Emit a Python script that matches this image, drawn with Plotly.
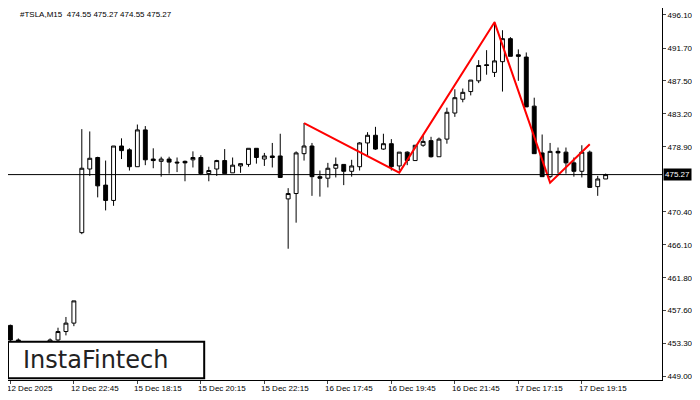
import plotly.graph_objects as go

# M15 candles
opens = [455.6, 453.7, 452.5, 451.8, 452.6, 453.0, 453.7, 454.8, 455.9,
         467.7, 476.0, 477.5, 473.9, 471.9, 479.0, 478.5, 476.3, 481.1, 477.3,
         477.0, 477.3, 476.9, 477.0, 477.2, 477.5, 475.4, 476.0, 477.1, 475.5,
         476.4, 476.6, 478.7, 477.3, 477.7, 477.7, 472.1, 472.8, 478.0, 479.0,
         475.0, 474.8, 476.1, 476.6, 475.7, 476.3, 479.4, 480.4, 478.6, 479.3,
         476.4, 478.2, 477.1, 479.1, 479.7, 477.6, 479.9, 483.3, 485.1, 486.1,
         487.5, 489.6, 488.6, 490.0, 493.0, 490.9, 490.6, 484.2, 478.1, 475.0,
         478.3, 478.2, 476.8, 475.7, 478.2, 473.7, 474.7]
highs = [455.7, 453.9, 452.8, 452.8, 453.2, 453.9, 455.3, 456.7, 458.8,
         481.2, 480.9, 477.6, 477.1, 479.0, 480.0, 478.7, 481.8, 481.6, 478.7,
         477.6, 477.6, 477.5, 477.1, 478.3, 477.8, 476.3, 477.2, 478.6, 477.5,
         476.7, 478.7, 478.7, 478.1, 479.4, 480.6, 473.5, 478.3, 482.0, 479.4,
         475.8, 476.8, 477.5, 476.6, 477.2, 479.5, 480.8, 481.5, 480.6, 479.9,
         478.2, 478.3, 479.1, 480.4, 480.2, 480.1, 484.0, 486.4, 486.5, 487.6,
         490.2, 491.5, 495.2, 494.1, 493.2, 491.6, 491.2, 485.3, 480.5, 479.4,
         478.8, 478.8, 477.5, 479.1, 478.4, 475.1, 475.4]
lows = [453.5, 452.2, 451.5, 451.5, 452.3, 452.8, 453.0, 454.3, 455.5,
        467.5, 475.1, 472.3, 470.6, 471.2, 477.3, 475.8, 476.3, 476.5, 476.1,
        475.0, 475.4, 475.6, 474.4, 476.2, 475.2, 474.4, 475.1, 475.4, 475.5,
        475.5, 476.3, 476.7, 476.4, 476.2, 474.9, 465.6, 469.0, 477.1, 472.5,
        472.4, 473.6, 474.9, 473.9, 475.0, 475.8, 477.7, 478.5, 478.5, 475.8,
        475.8, 476.5, 477.1, 478.9, 477.5, 477.6, 479.3, 482.8, 484.7, 485.6,
        487.2, 488.3, 488.0, 486.1, 490.7, 487.5, 484.1, 478.0, 475.0, 474.8,
        475.4, 475.4, 475.0, 474.9, 473.6, 472.5, 474.7]
closes = [453.7, 452.5, 451.8, 452.6, 453.0, 453.7, 454.8, 455.9, 458.8,
          476.1, 477.4, 473.8, 471.9, 479.0, 478.4, 476.3, 481.1, 477.2, 477.1,
          477.3, 476.9, 476.8, 476.8, 477.5, 475.4, 475.8, 477.1, 475.4, 476.5,
          476.7, 478.7, 477.5, 477.7, 477.5, 474.9, 472.8, 478.1, 479.0, 475.0,
          474.8, 476.1, 476.6, 475.7, 476.4, 479.4, 480.4, 478.6, 479.3, 476.3,
          478.2, 477.1, 479.1, 479.6, 477.6, 479.9, 483.4, 485.3, 486.0, 487.6,
          489.5, 489.5, 490.1, 493.0, 490.7, 490.7, 484.1, 478.0, 475.0, 478.3,
          478.1, 476.8, 475.7, 478.2, 473.6, 474.7, 475.27]

# head & shoulders outline
pattern_idx = [37, 49, 61, 68, 73]
pattern_px = [481.97, 475.53, 495.15, 474.22, 479.23]

last_price = 475.27
y_ticks = [496.10, 491.70, 487.50, 483.20, 478.90, 470.40, 466.10, 461.80, 457.60, 453.30, 449.00]
x_tick_idx = [0, 8, 16, 24, 32, 40, 48, 56, 64, 72]
x_tick_text = ["12 Dec 2025", "12 Dec 22:45", "15 Dec 18:15", "15 Dec 20:15", "15 Dec 22:15",
               "16 Dec 17:45", "16 Dec 19:45", "16 Dec 21:45", "17 Dec 17:15", "17 Dec 19:15"]

idx = list(range(len(opens)))

fig = go.Figure()
fig.add_trace(go.Candlestick(
    x=idx, open=opens, high=highs, low=lows, close=closes,
    increasing=dict(fillcolor="white", line=dict(color="black", width=1)),
    decreasing=dict(fillcolor="black", line=dict(color="black", width=1)),
    whiskerwidth=0, showlegend=False, hoverinfo="skip"))
fig.add_trace(go.Scatter(x=pattern_idx, y=pattern_px, mode="lines",
                         line=dict(color="#ff0000", width=2), showlegend=False))

fig.add_hline(y=last_price, line=dict(color="black", width=1))

font = dict(family="Liberation Sans", size=8, color="black")
for i, t in zip(x_tick_idx, x_tick_text):
    fig.add_annotation(x=i, y=0, xref="x", yref="paper", yanchor="top", xanchor="left",
                       text=t, showarrow=False, font=font, xshift=-5, yshift=-2)

fig.add_annotation(x=1, y=last_price, xref="paper", yref="y", xanchor="left",
                   text="475.27", showarrow=False, bgcolor="black",
                   font=dict(family="Liberation Sans", size=8, color="white"), xshift=1)
fig.add_annotation(x=0.015, y=1, xref="paper", yref="paper", xanchor="left", yanchor="top",
                   text="#TSLA,M15  474.55 475.27 474.55 475.27", showarrow=False, font=font)

# logo box
fig.add_shape(type="rect", xref="paper", yref="paper", x0=0, x1=0.3, y0=0.005, y1=0.103,
              fillcolor="white", line=dict(color="black", width=2), layer="above")
fig.add_annotation(x=0.02, y=0.054, xref="paper", yref="paper", xanchor="left", yanchor="middle",
                   text="InstaFintech", showarrow=False,
                   font=dict(family="DejaVu Sans", size=24, color="#222222"))

fig.update_layout(
    width=692, height=392, margin=dict(l=0, r=38, t=0, b=20),
    paper_bgcolor="white", plot_bgcolor="white",
    xaxis=dict(range=[-0.3, 82.1], rangeslider=dict(visible=False), showgrid=False,
               showticklabels=False, ticks="outside", tickvals=x_tick_idx, ticklen=3,
               showline=True, linecolor="black", mirror=True, zeroline=False),
    yaxis=dict(range=[448.48, 497.0], side="right", showgrid=False, tickvals=y_ticks,
               ticktext=["%.2f" % v for v in y_ticks], ticks="outside", ticklen=3,
               tickfont=font, showline=True, linecolor="black", mirror=True, zeroline=False),
)

fig.write_html("out.html")
